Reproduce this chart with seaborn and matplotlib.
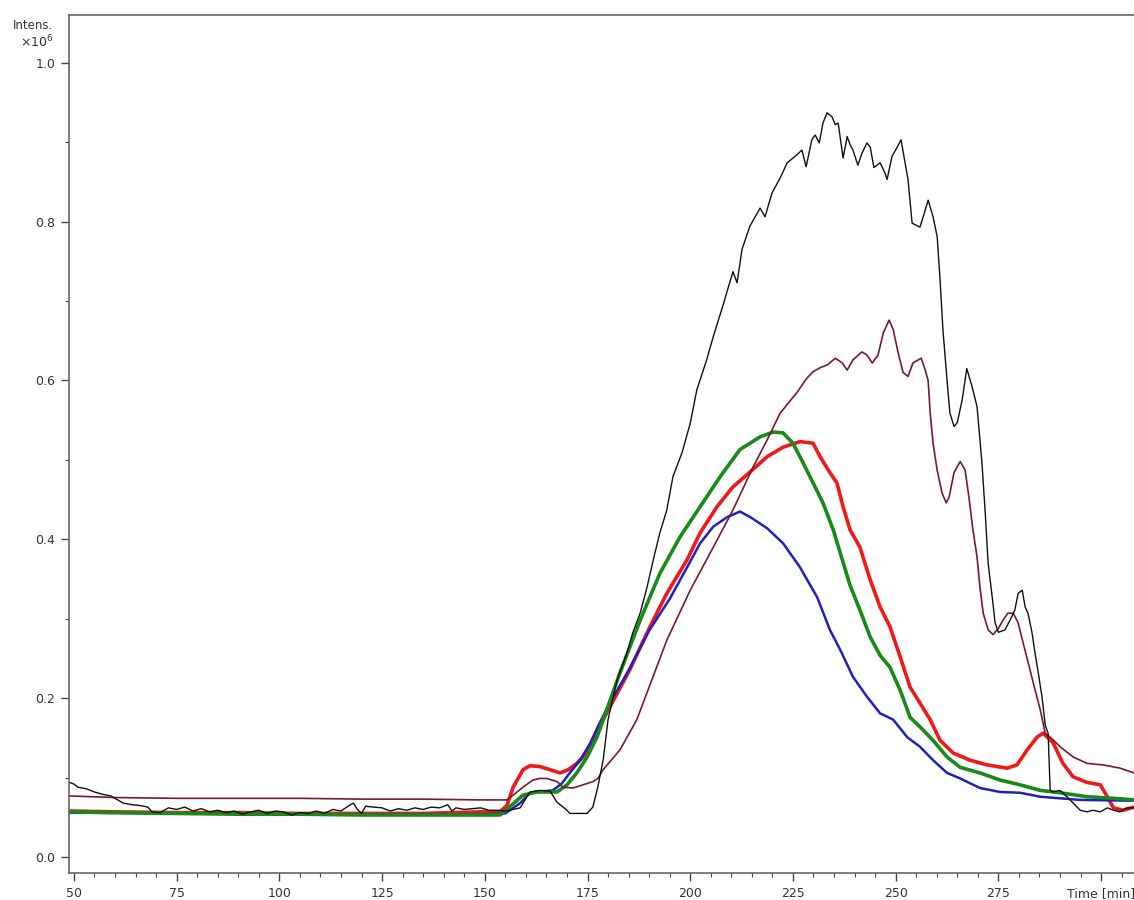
import numpy as np
import pandas as pd
import matplotlib
matplotlib.use('Agg')
import matplotlib.pyplot as plt
from matplotlib.ticker import MultipleLocator
import seaborn as sns

# ------------------------------------------------------------
# data (time in min, intensity x1e6)
# ------------------------------------------------------------

black_t = [49, 50, 51, 53, 55, 57, 59, 61, 62, 64, 66, 68, 69, 71, 73, 75, 77, 79, 81,
           83, 85, 87, 89, 91, 93, 95, 97, 99, 101, 103, 105, 107, 109, 111, 113, 115,
           117, 118, 119, 120, 121, 123, 125, 127, 129, 131, 133, 135, 137, 139, 141,
           142, 143, 145, 147, 149, 151, 153, 155, 156.9, 158.6, 161, 163.4, 165.9,
           167.6, 170, 170.7, 174.9, 176.3, 177.5, 178.8, 180, 182.2, 184.6, 186,
           187.8, 189.5, 191, 192.6, 194.3, 195.8, 198, 200, 201.6, 204, 205.6, 208,
           210.4, 211.4, 212.6, 214.5, 217, 218.2, 219.9, 221.9, 223.6, 225.5, 227.2,
           228.2, 229.6, 230.4, 231.4, 232.3, 233.3, 234.5, 235.3, 236, 237.2, 238.2,
           238.9, 239.6, 240.8, 241.8, 243, 243.8, 244.7, 246.2, 247.4, 247.9, 249.1,
           250.3, 251.3, 252.3, 253, 254, 255.9, 256.7, 257.9, 259.1, 260.1, 260.8,
           261.5, 262.5, 263.2, 264.2, 265, 266.2, 267.3, 268.6, 269.8, 271, 271.8,
           272.5, 273.5, 274.2, 275, 276.6, 277.8, 279, 279.8, 280.8, 281.5, 282.2,
           283.2, 283.9, 284.7, 285.6, 286.4, 287.1, 287.6, 288.3, 290, 291.7, 293.2,
           294.9, 296.6, 298, 299.8, 301.5, 303, 304.6, 306.3, 308]
black_v = [0.094, 0.092, 0.088, 0.086, 0.082, 0.079, 0.077, 0.071, 0.068, 0.066, 0.065,
           0.063, 0.057, 0.056, 0.062, 0.060, 0.063, 0.058, 0.061, 0.057, 0.059, 0.056,
           0.058, 0.054, 0.057, 0.059, 0.055, 0.058, 0.057, 0.053, 0.056, 0.055, 0.058,
           0.055, 0.060, 0.058, 0.065, 0.068, 0.060, 0.055, 0.064, 0.063, 0.062, 0.058,
           0.061, 0.059, 0.062, 0.060, 0.063, 0.062, 0.066, 0.058, 0.062, 0.060, 0.061,
           0.062, 0.059, 0.059, 0.058, 0.060, 0.062, 0.082, 0.084, 0.083, 0.069, 0.059,
           0.055, 0.055, 0.063, 0.088, 0.122, 0.173, 0.223, 0.257, 0.282, 0.307, 0.340,
           0.374, 0.408, 0.437, 0.479, 0.509, 0.546, 0.588, 0.626, 0.655, 0.695, 0.737,
           0.723, 0.765, 0.794, 0.817, 0.806, 0.836, 0.855, 0.874, 0.882, 0.890, 0.869,
           0.903, 0.909, 0.899, 0.924, 0.937, 0.932, 0.922, 0.924, 0.880, 0.907, 0.897,
           0.890, 0.871, 0.886, 0.899, 0.894, 0.868, 0.874, 0.861, 0.853, 0.882, 0.893,
           0.903, 0.874, 0.853, 0.798, 0.793, 0.806, 0.827, 0.806, 0.781, 0.727, 0.664,
           0.600, 0.559, 0.542, 0.547, 0.576, 0.615, 0.592, 0.567, 0.496, 0.433, 0.370,
           0.327, 0.295, 0.283, 0.286, 0.298, 0.311, 0.332, 0.336, 0.315, 0.307, 0.282,
           0.257, 0.232, 0.202, 0.166, 0.156, 0.084, 0.082, 0.084, 0.076, 0.068, 0.059,
           0.057, 0.059, 0.057, 0.062, 0.059, 0.057, 0.062, 0.062]

maroon_t = [49, 60, 75, 90, 105, 120, 135, 148.8, 155.4, 156.9, 159.3, 161.7, 163.4,
            165.1, 167.6, 169, 171.5, 173.9, 176.3, 177.5, 178.8, 182.9, 187, 194.3,
            200, 205.6, 210.4, 215.3, 218.7, 221.9, 226, 228.4, 229.9, 231.6, 233.5,
            235.3, 237, 238.2, 239.6, 241.8, 243, 244.3, 245.7, 247, 248.4, 249.4,
            250.6, 251.8, 253, 254.2, 256.2, 257.2, 257.9, 258.4, 259.1, 260.1, 261.3,
            262.3, 263, 264.2, 265.7, 266.9, 267.9, 268.8, 269.8, 270.5, 271.3, 272.5,
            273.7, 275, 276.1, 277.3, 278.6, 279.8, 281, 282, 283.5, 285.2, 286.4,
            287.6, 290, 293.2, 296.6, 300.5, 304.6, 308]
maroon_v = [0.077, 0.075, 0.074, 0.074, 0.074, 0.073, 0.073, 0.072, 0.072, 0.078, 0.088,
            0.097, 0.099, 0.099, 0.095, 0.088, 0.087, 0.091, 0.095, 0.099, 0.110, 0.135,
            0.173, 0.273, 0.336, 0.390, 0.437, 0.491, 0.525, 0.559, 0.585, 0.603, 0.611,
            0.616, 0.620, 0.628, 0.622, 0.613, 0.626, 0.636, 0.632, 0.622, 0.632, 0.660,
            0.676, 0.664, 0.635, 0.610, 0.605, 0.622, 0.628, 0.613, 0.600, 0.559, 0.521,
            0.487, 0.458, 0.446, 0.453, 0.484, 0.498, 0.487, 0.450, 0.412, 0.378, 0.340,
            0.307, 0.286, 0.280, 0.288, 0.298, 0.307, 0.307, 0.295, 0.270, 0.250, 0.219,
            0.185, 0.156, 0.151, 0.139, 0.126, 0.118, 0.116, 0.112, 0.106]

red_t = [49, 60, 75, 90, 105, 120, 135, 148.8, 153.7, 155.4, 156.9, 159.3, 161, 163.4,
         165.9, 168.3, 170.3, 172.4, 173.9, 175.6, 177.3, 178.8, 185.3, 190.2, 194.3,
         199.2, 202.4, 206.5, 210.4, 214.6, 218.7, 222.6, 226.7, 229.9, 231.6, 234,
         235.7, 237.2, 238.9, 241.3, 243.8, 246.2, 248.6, 251.1, 253.5, 255.9, 258.4,
         260.8, 264, 268.1, 272.3, 277.1, 279.5, 282, 284.4, 285.9, 288.3, 290.7,
         293.2, 296.6, 299.8, 301.5, 303, 305.4, 308]
red_v = [0.058, 0.057, 0.056, 0.056, 0.055, 0.055, 0.055, 0.057, 0.057, 0.065, 0.088,
         0.110, 0.115, 0.114, 0.110, 0.106, 0.110, 0.118, 0.126, 0.139, 0.156, 0.173,
         0.236, 0.290, 0.332, 0.374, 0.408, 0.441, 0.466, 0.485, 0.504, 0.516, 0.523,
         0.521, 0.504, 0.484, 0.471, 0.441, 0.412, 0.390, 0.349, 0.315, 0.290, 0.252,
         0.214, 0.194, 0.173, 0.147, 0.131, 0.122, 0.116, 0.112, 0.116, 0.135, 0.151,
         0.156, 0.144, 0.118, 0.101, 0.094, 0.091, 0.076, 0.062, 0.059, 0.063]

green_t = [49, 60, 75, 90, 105, 120, 135, 148.8, 153.7, 156, 159.3, 162.7, 165.1, 167.6,
           170, 172.4, 174.9, 177.3, 182.9, 187.8, 192.6, 197.5, 202.4, 207.3, 212.1,
           217, 220.2, 222.6, 225, 227.5, 229.9, 232.3, 234.8, 236.5, 238.9, 241.3,
           243.8, 246.2, 248.6, 251.1, 253.5, 255.9, 259.1, 262.5, 265.7, 270.5, 275.4,
           280.3, 285.2, 290, 296.6, 303, 308]
green_v = [0.057, 0.056, 0.055, 0.054, 0.054, 0.053, 0.053, 0.053, 0.053, 0.063, 0.078,
           0.082, 0.082, 0.082, 0.091, 0.106, 0.126, 0.151, 0.232, 0.298, 0.357, 0.403,
           0.441, 0.479, 0.513, 0.529, 0.535, 0.534, 0.521, 0.496, 0.471, 0.446, 0.412,
           0.383, 0.342, 0.311, 0.277, 0.254, 0.239, 0.210, 0.176, 0.164, 0.147, 0.126,
           0.113, 0.106, 0.097, 0.091, 0.084, 0.081, 0.076, 0.074, 0.072]

blue_t = [49, 75, 100, 125, 150, 155, 158.6, 161, 164.2, 166.6, 168.8, 170.7, 173.2,
          175.6, 177.5, 180, 185, 190, 195, 200, 202.4, 205.6, 209, 212.1, 214.6,
          218.7, 222.6, 226.7, 230.9, 234, 236.5, 239.6, 243, 246.2, 249.4, 252.8,
          255.9, 259.1, 262.5, 265.7, 270.5, 275.4, 280.3, 285.2, 290, 294.9, 308]
blue_v = [0.056, 0.055, 0.054, 0.054, 0.054, 0.055, 0.068, 0.081, 0.083, 0.084, 0.093,
          0.106, 0.122, 0.143, 0.164, 0.190, 0.235, 0.285, 0.325, 0.372, 0.395, 0.416,
          0.428, 0.435, 0.428, 0.414, 0.395, 0.365, 0.327, 0.286, 0.261, 0.227, 0.202,
          0.181, 0.173, 0.151, 0.139, 0.122, 0.106, 0.099, 0.087, 0.082, 0.081, 0.076,
          0.074, 0.072, 0.071]

# draw order: red under blue, green on top of both at the baseline
SERIES = [
    ('red',    red_t,    red_v,    '#f01818', 2.6),
    ('blue',   blue_t,   blue_v,   '#2020c0', 1.8),
    ('green',  green_t,  green_v,  '#178a17', 2.6),
    ('maroon', maroon_t, maroon_v, '#7a1830', 1.2),
    ('black',  black_t,  black_v,  '#101010', 1.0),
]

x_ticks = [50, 75, 100, 125, 150, 175, 200, 225, 250, 275, 300]
x_labels = ['50', '75', '100', '125', '150', '175', '200', '225', '250', '275', 'Time [min]']
y_ticks = [0.0, 0.2, 0.4, 0.6, 0.8, 1.0]

# ------------------------------------------------------------
# plot
# ------------------------------------------------------------

sns.set_style('white')
plt.rcParams['font.family'] = ['DejaVu Sans']

fig = plt.figure(figsize=(11.34, 9.0), dpi=100)
ax = fig.add_axes([0.0608, 0.030, 0.9392, 0.9533])

for name, t, v, col, lw in SERIES:
    df = pd.DataFrame({'t': t, 'v': v})
    sns.lineplot(data=df, x='t', y='v', ax=ax, color=col, linewidth=lw,
                 estimator=None, sort=False, legend=False)

ax.set_xlim(48.8, 308.0)
ax.set_ylim(-0.020, 1.060)
ax.set_xlabel('')
ax.set_ylabel('')

ax.set_xticks(x_ticks)
ax.set_xticklabels(x_labels)
ax.set_yticks(y_ticks)
ax.set_yticklabels([f'{y:.1f}' for y in y_ticks])
ax.xaxis.set_minor_locator(MultipleLocator(5))
ax.yaxis.set_minor_locator(MultipleLocator(0.1))

ax.tick_params(axis='both', which='major', direction='out', length=6, width=1.0,
               color='#444444', labelsize=9, labelcolor='#333333', pad=4,
               bottom=True, left=True)
ax.tick_params(axis='both', which='minor', direction='out', length=3, width=0.8,
               color='#444444', bottom=True, left=True)

for side in ['left', 'bottom', 'top']:
    ax.spines[side].set_color('#666666')
    ax.spines[side].set_linewidth(1.2)
ax.spines['right'].set_visible(False)

fig.text(0.047, 0.972, 'Intens.', ha='right', va='center', fontsize=8.5, color='#333333')
fig.text(0.047, 0.953, r'$\times10^6$', ha='right', va='center', fontsize=9, color='#333333')

plt.savefig('out.png', dpi=100)
